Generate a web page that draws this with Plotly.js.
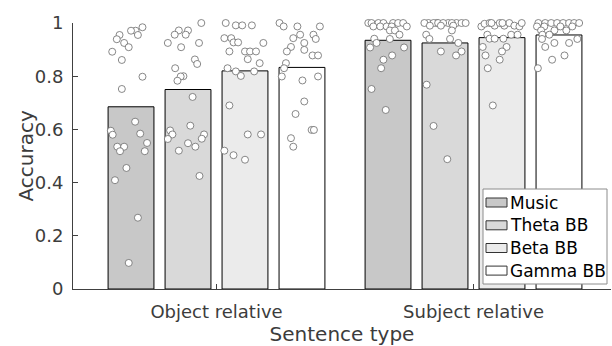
<!DOCTYPE html>
<html>
<head>
<meta charset="utf-8">
<script src="https://cdn.plot.ly/plotly-3.0.1.min.js"></script>
<style>html,body{margin:0;padding:0;background:#fff;}#chart{width:612px;height:346px;}</style>
</head>
<body>
<div id="chart"></div>
<script>
// ---- data ----
const categories = ['Object relative', 'Subject relative'];
const seriesNames = ['Music', 'Theta BB', 'Beta BB', 'Gamma BB'];
const seriesColors = ['#c8c8c8', '#d9d9d9', '#ebebeb', '#ffffff'];

const musicMean = [0.685, 0.935];
const thetaMean = [0.750, 0.925];
const betaMean  = [0.820, 0.945];
const gammaMean = [0.833, 0.955];

// individual participants (accuracy) and horizontal jitter (fraction of bar width)
const musicObj = [0.984,0.971,0.971,0.955,0.955,0.939,0.925,0.909,0.892,0.861,0.798,0.752,0.629,0.595,0.584,0.580,0.549,0.535,0.535,0.518,0.518,0.455,0.409,0.268,0.098];
const musicObjJit = [0.25,0.10,0.0,0.15,-0.25,-0.31,-0.15,-0.05,-0.41,-0.20,0.25,-0.20,0.09,-0.44,0.20,-0.40,0.35,-0.30,-0.15,-0.24,0.30,-0.10,-0.35,0.15,-0.05];
const thetaObj = [1.0,0.972,0.972,0.956,0.956,0.925,0.925,0.909,0.863,0.846,0.830,0.800,0.799,0.783,0.722,0.614,0.596,0.581,0.581,0.564,0.565,0.548,0.535,0.520,0.425];
const thetaObjJit = [0.29,-0.20,0.0,-0.29,-0.05,-0.44,0.24,-0.15,0.15,0.20,-0.28,-0.10,-0.16,-0.23,0.10,0.05,-0.39,-0.34,0.35,-0.44,0.30,0.0,0.16,-0.20,0.25];
const betaObj = [1.0,0.991,0.991,0.991,0.943,0.943,0.927,0.927,0.925,0.893,0.893,0.893,0.893,0.864,0.849,0.830,0.818,0.801,0.818,0.690,0.581,0.581,0.520,0.503,0.486];
const betaObjJit = [-0.42,-0.20,-0.06,0.15,-0.45,-0.30,-0.25,-0.15,0.40,-0.34,0.0,0.11,0.24,0.06,0.32,-0.38,-0.20,-0.09,0.20,-0.34,0.06,0.35,-0.45,-0.25,0.0];
const gammaObj = [1.0,0.987,0.987,0.987,0.956,0.956,0.940,0.943,0.925,0.910,0.893,0.899,0.878,0.878,0.849,0.830,0.799,0.784,0.799,0.705,0.658,0.598,0.598,0.567,0.535];
const gammaObjJit = [-0.49,-0.40,-0.10,0.39,-0.04,0.25,0.30,-0.19,0.05,-0.24,-0.33,0.05,0.23,0.35,-0.35,-0.39,-0.44,0.01,0.35,0.05,-0.14,0.21,0.26,-0.24,-0.19];

const musicSubj = [1.0,1.0,1.0,1.0,1.0,1.0,1.0,0.987,0.987,0.987,0.987,0.987,0.972,0.972,0.956,0.941,0.940,0.925,0.908,0.908,0.878,0.862,0.830,0.752,0.673];
const musicSubjJit = [-0.43,-0.36,-0.21,-0.10,0.11,0.22,0.33,-0.32,-0.17,-0.03,0.08,0.41,0.04,0.15,0.25,-0.30,0.04,-0.25,-0.39,0.35,0.09,-0.10,-0.15,-0.36,-0.05];
const thetaSubj = [1.0,1.0,1.0,1.0,1.0,1.0,1.0,1.0,1.0,1.0,1.0,0.99,0.99,0.99,0.972,0.956,0.940,0.940,0.925,0.893,0.893,0.878,0.768,0.613,0.488];
const thetaSubjJit = [-0.36,-0.18,-0.25,-0.15,0.07,0.25,0.36,-0.04,0.15,0.45,-0.45,-0.09,0.18,-0.33,0.15,-0.41,-0.34,0.11,0.29,-0.09,0.36,0.24,-0.40,-0.25,0.05];
const betaSubj = [0.987,0.997,1.0,0.99,1.0,0.99,1.0,0.99,0.987,1.0,1.0,1.0,0.956,0.956,0.956,0.941,0.941,0.941,0.910,0.910,0.893,0.878,0.862,0.830,0.690];
const betaSubjJit = [-0.45,-0.38,-0.27,-0.16,-0.05,0.05,0.16,0.27,0.38,-0.23,0.01,0.43,-0.32,0.20,0.34,-0.27,-0.16,0.03,-0.42,0.10,0.0,-0.36,-0.05,-0.31,-0.20];
const gammaSubj = [1.0,1.0,1.0,1.0,1.0,1.0,1.0,1.0,0.987,0.987,0.987,0.987,0.972,0.972,0.972,0.956,0.956,0.940,0.940,0.925,0.925,0.910,0.878,0.862,0.830];
const gammaSubjJit = [-0.45,-0.30,-0.17,-0.04,0.09,0.22,0.33,0.44,-0.48,-0.32,0.03,0.29,-0.39,-0.10,0.16,-0.36,-0.21,-0.37,0.40,-0.10,0.22,-0.30,0.12,-0.15,-0.46];

const yTickVals = [0, 0.2, 0.4, 0.6, 0.8, 1];
const yTickText = ['0', '0.2', '0.4', '0.6', '0.8', '1'];
const xTitle = 'Sentence type';
const yTitle = 'Accuracy';

// ---- build ----
const means = [musicMean, thetaMean, betaMean, gammaMean];
const points = [[musicObj, musicSubj], [thetaObj, thetaSubj], [betaObj, betaSubj], [gammaObj, gammaSubj]];
const jitters = [[musicObjJit, musicSubjJit], [thetaObjJit, thetaSubjJit], [betaObjJit, betaSubjJit], [gammaObjJit, gammaSubjJit]];
const catX = categories.map((c, i) => i + 1);

const BARGAP = 0.113, GROUPGAP = 0.195;
const nS = seriesNames.length;
const slot = (1 - BARGAP) / nS;
const barW = slot * (1 - GROUPGAP);

const FONT = 'DejaVu Sans, Liberation Sans, Arial, sans-serif';
const TXT = '#3c3c3c';

const traces = [];
for (let s = 0; s < nS; s++) {
  traces.push({
    type: 'bar', x: catX, y: means[s], name: seriesNames[s],
    marker: {color: seriesColors[s], line: {color: '#000000', width: 1}},
    showlegend: false, hoverinfo: 'y'
  });
}
for (let s = 0; s < nS; s++) {
  const off = (s - (nS - 1) / 2) * slot;
  const xs = [], ys = [];
  for (let c = 0; c < catX.length; c++) {
    const vals = points[s][c], jit = jitters[s][c];
    for (let k = 0; k < vals.length; k++) {
      xs.push(catX[c] + off + jit[k] * barW);
      ys.push(vals[k]);
    }
  }
  traces.push({
    type: 'scatter', mode: 'markers', x: xs, y: ys, showlegend: false,
    marker: {size: 7, color: '#ffffff', line: {color: '#6a6a6a', width: 0.8}},
    cliponaxis: false, hoverinfo: 'y'
  });
}

// layout geometry (pixels)
const W = 612, H = 346, L = 73, R = 1, T = 23, B = 57;
const pw = W - L - R, ph = H - T - B;
const px2x = p => (p - L) / pw;
const py2y = p => (H - B - p) / ph;

const shapes = [];
const annotations = [];
// y axis title
annotations.push({xref: 'paper', yref: 'paper', x: px2x(25.5), y: py2y(156),
  xanchor: 'center', yanchor: 'middle', textangle: -90, text: yTitle, showarrow: false,
  font: {family: FONT, size: 20, color: TXT}});
// custom legend
shapes.push({type: 'rect', xref: 'paper', yref: 'paper', layer: 'above',
  x0: px2x(483), x1: px2x(607), y0: py2y(284), y1: py2y(189),
  fillcolor: '#ffffff', line: {color: '#8c8c8c', width: 1}});
const rowY = [202.5, 225.3, 248, 270.6];
for (let s = 0; s < nS; s++) {
  shapes.push({type: 'rect', xref: 'paper', yref: 'paper', layer: 'above',
    x0: px2x(486), x1: px2x(507), y0: py2y(rowY[s] + 4.5), y1: py2y(rowY[s] - 4.5),
    fillcolor: seriesColors[s], line: {color: '#333333', width: 1}});
  annotations.push({xref: 'paper', yref: 'paper', x: px2x(508), y: py2y(rowY[s]),
    xanchor: 'left', yanchor: 'middle', text: seriesNames[s], showarrow: false,
    font: {family: FONT, size: 17, color: '#000000'}});
}

const layout = {
  width: W, height: H,
  margin: {l: L, r: R, t: T, b: B},
  paper_bgcolor: '#ffffff', plot_bgcolor: '#ffffff',
  barmode: 'group', bargap: BARGAP, bargroupgap: GROUPGAP,
  showlegend: false,
  font: {family: FONT, color: TXT},
  xaxis: {
    range: [1 - (216.5 - L) / 257, 1 - (216.5 - L) / 257 + pw / 257],
    tickvals: catX, ticktext: categories,
    ticks: 'inside', ticklen: 5, tickcolor: '#404040', tickwidth: 1,
    showline: true, linecolor: '#404040', linewidth: 1,
    showgrid: false, zeroline: false,
    tickfont: {family: FONT, size: 18, color: TXT},
    ticklabelstandoff: 6,
    title: {text: xTitle, font: {family: FONT, size: 20, color: TXT}, standoff: 6}
  },
  yaxis: {
    range: [0, 1],
    tickvals: yTickVals, ticktext: yTickText,
    ticks: 'inside', ticklen: 5, tickcolor: '#404040', tickwidth: 1,
    showline: true, linecolor: '#404040', linewidth: 1,
    showgrid: false, zeroline: false,
    tickfont: {family: FONT, size: 18, color: TXT},
    ticklabelstandoff: 5
  },
  shapes: shapes,
  annotations: annotations
};

Plotly.newPlot('chart', traces, layout, {displayModeBar: false, staticPlot: true});
</script>
</body>
</html>
